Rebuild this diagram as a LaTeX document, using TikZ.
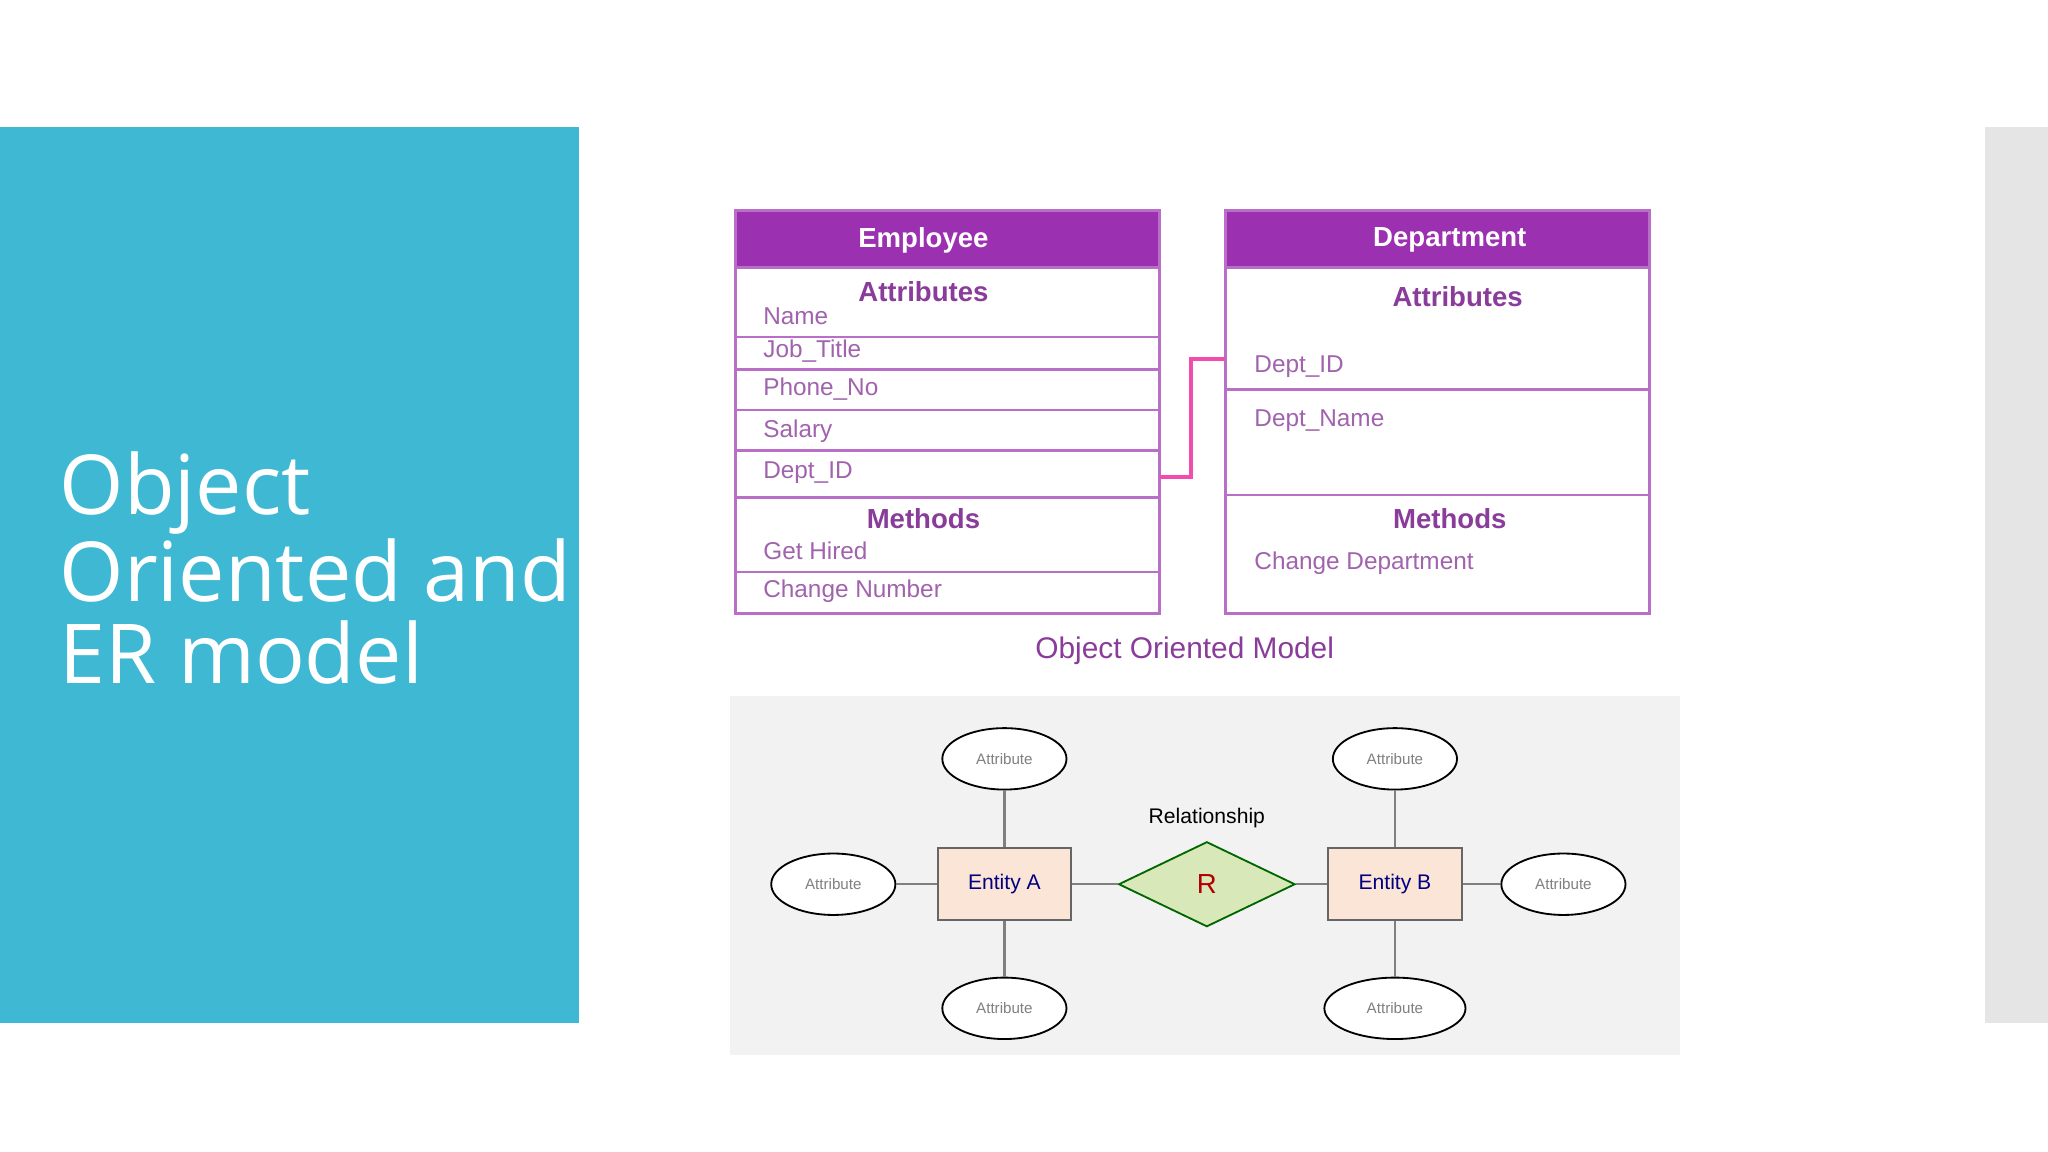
\documentclass[tikz,border=0pt]{standalone}
\usepackage{fontspec}
\setmainfont{Liberation Sans}
\newfontfamily\titlefont{Open Sans}
\usetikzlibrary{shapes.geometric}
\definecolor{teal}{HTML}{3FB8D3}
\definecolor{hdr}{HTML}{9B30B0}
\definecolor{rowtxt}{HTML}{8A3C9A}
\definecolor{erbg}{HTML}{F2F2F2}
\definecolor{entfill}{HTML}{FBE5D6}
\definecolor{relfill}{HTML}{D9E8B8}
\begin{document}
\begin{tikzpicture}[x=0.01cm,y=-0.01cm,
    cell/.style={draw=hdr!70,line width=0.6pt,fill=white},
    head/.style={fill=hdr,draw=hdr!70,line width=0.6pt},
    htxt/.style={text=white,font=\fontsize{6}{7}\selectfont\bfseries},
    sect/.style={text=rowtxt,font=\fontsize{6}{7}\selectfont\bfseries},
    row/.style={text=rowtxt!80,font=\fontsize{5.3}{6}\selectfont,anchor=west},
    attr/.style={ellipse,draw,fill=white,minimum width=0.95cm,minimum height=0.47cm,inner sep=0pt,font=\fontsize{3.3}{4}\selectfont,text=gray},
    ent/.style={draw=gray!80!black,fill=entfill,minimum width=1.02cm,minimum height=0.55cm,font=\fontsize{4.6}{5}\selectfont,text=blue!50!black},
    link/.style={draw=gray,line width=0.5pt}]
  \useasboundingbox (0,0) rectangle (1568,882);
  % left panel
  \fill[teal] (0,97) rectangle (443,783);
  \fill[gray!20] (1520,97) rectangle (1568,783);
  \node[anchor=north west,text=white,align=left,inner sep=0pt,
        font=\titlefont\fontsize{18}{17.9}\selectfont] (title) at (45,345)
        {Object\\Oriented and\\ER model};
  % Employee table
  \fill[head] (563,161) rectangle (888,205);
  \node[htxt] (emp) at (707,184) {Employee};
  \foreach \a/\b in {205/258,258/283,283/314,314/345,345/381,381/438,438/470}
    \draw[cell] (563,\a) rectangle (888,\b);
  \node[sect] (ea) at (707,223) {Attributes};
  \node[row] (e1) at (572,242) {Name};
  \node[row] (e2) at (572,269) {Job\_Title};
  \node[row] (e3) at (572,298) {Phone\_No};
  \node[row] (e4) at (572,330) {Salary};
  \node[row] (e5) at (572,362) {Dept\_ID};
  \node[sect] (em) at (707,397) {Methods};
  \node[row] (e6) at (572,422) {Get Hired};
  \node[row] (e7) at (572,453) {Change Number};
  % Department table
  \fill[head] (938,161) rectangle (1263,205);
  \node[htxt] (dep) at (1110,184) {Department};
  \foreach \a/\b in {205/298,298/379,379/470}
    \draw[cell] (938,\a) rectangle (1263,\b);
  \node[sect] (da) at (1116,227) {Attributes};
  \node[row] (d1) at (948,281) {Dept\_ID};
  \node[row] (d2) at (948,322) {Dept\_Name};
  \node[sect] (dm) at (1110,397) {Methods};
  \node[row] (d3) at (948,431) {Change Department};
  \coordinate (p1) at (888,365);
  \coordinate (p2) at (938,275);
  \draw[magenta!70,line width=0.8pt] (p1) -- (912,365) -- (912,275) -- (p2);
  \node[text=rowtxt,font=\fontsize{6.5}{7}\selectfont] (cap) at (907,498) {Object Oriented Model};
  % ER model
  \fill[erbg] (559,533) rectangle (1286,808);
  \node[ent] (ea) at (769,677) {Entity A};
  \node[ent] (eb) at (1068,677) {Entity B};
  \node[diamond,draw=green!40!black,fill=relfill,minimum width=1.35cm,minimum height=0.65cm,
        aspect=2,inner sep=0pt,text=red!70!black,font=\fontsize{6}{7}\selectfont] (r) at (924,677) {R};
  \node[font=\fontsize{4.6}{5}\selectfont] (rl) at (924,626) {Relationship};
  \node[attr] (a1) at (769,581) {Attribute};
  \node[attr] (a2) at (638,677) {Attribute};
  \node[attr] (a3) at (769,772) {Attribute};
  \node[attr] (b1) at (1068,581) {Attribute};
  \node[attr] (b2) at (1197,677) {Attribute};
  \node[attr,minimum width=1.08cm] (b3) at (1068,772) {Attribute};
  \draw[link] (a1) -- (ea);
  \draw[link] (a2) -- (ea);
  \draw[link] (a3) -- (ea);
  \draw[link] (ea) -- (r);
  \draw[link] (r) -- (eb);
  \draw[link] (b1) -- (eb);
  \draw[link] (b2) -- (eb);
  \draw[link] (b3) -- (eb);
\end{tikzpicture}
\end{document}
